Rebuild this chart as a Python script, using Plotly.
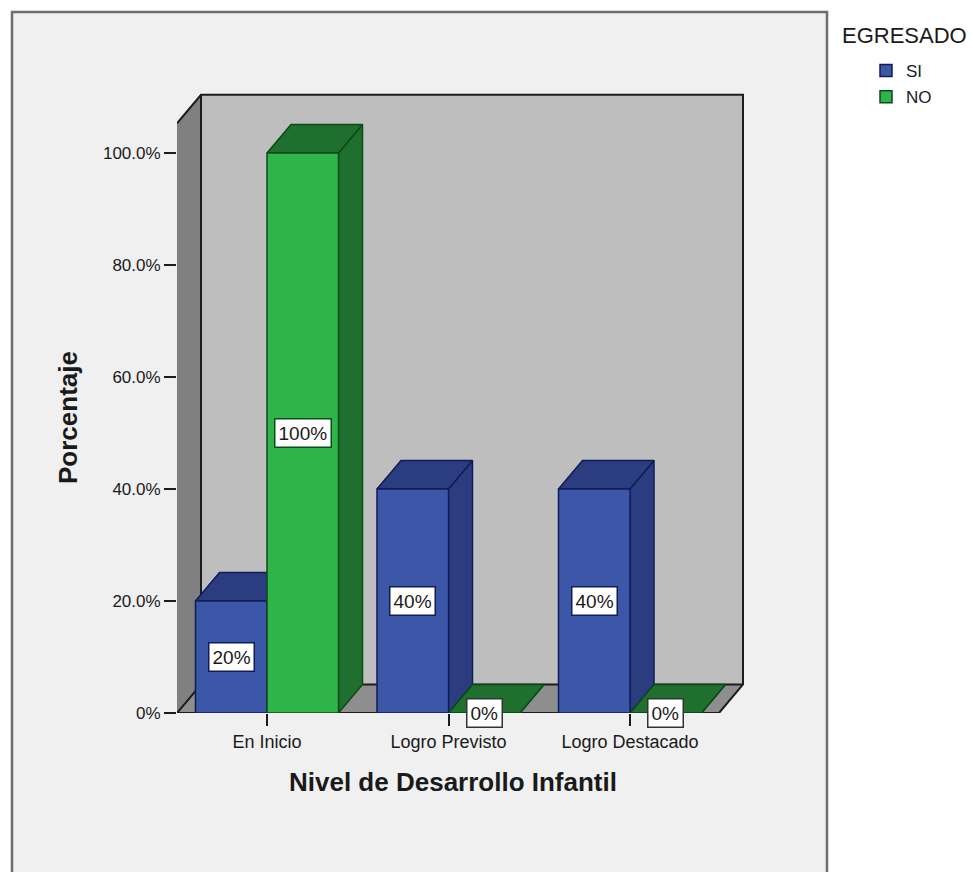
import plotly.graph_objects as go

# ---- data ----
categories = ["En Inicio", "Logro Previsto", "Logro Destacado"]
si_values = [20, 40, 40]
no_values = [100, 0, 0]
si_labels = ["20%", "40%", "40%"]
no_labels = ["100%", "0%", "0%"]
y_ticks = [0, 20, 40, 60, 80, 100]
y_tick_labels = ["0%", "20.0%", "40.0%", "60.0%", "80.0%", "100.0%"]

# ---- geometry / style ----
W, H = 973, 872
M_L, M_R, M_T, M_B = 177, W - 748, 90, H - 713
PX_PER_CAT = 181.5
PX_PER_PCT = 5.6
X_MIN = (177 - 267) / PX_PER_CAT
X_MAX = (748 - 267) / PX_PER_CAT
Y_MAX = (713 - 90) / PX_PER_PCT
BW = 71.5 / PX_PER_CAT          # bar width, category units
DX = 24 / PX_PER_CAT            # 3-D depth in x
DY = 28.5 / PX_PER_PCT          # 3-D depth in y
X_FRONT_END = (719 - 267) / PX_PER_CAT
FONT = "Liberation Sans"
BLUE, BLUE_D, BLUE_E = "#3c57a8", "#2b3d80", "#101c58"
GREEN, GREEN_D, GREEN_E = "#2fb44a", "#1f6f2e", "#0b4a1a"
TXT = "#1a1a1a"
EDGE = "#1c1c1c"

fig = go.Figure()


def poly(xs, ys, fill, line=None, width=0):
    fig.add_trace(go.Scatter(
        x=xs, y=ys, mode="lines", fill="toself" if fill else None, fillcolor=fill,
        line=dict(color=line or "rgba(0,0,0,0)", width=width),
        showlegend=False, hoverinfo="skip", cliponaxis=False))


x_back_left = X_MIN + DX
x_back_right = X_FRONT_END + DX
y_top = 105.3

# walls and floor
poly([x_back_left, x_back_right, x_back_right, x_back_left, x_back_left],
     [DY, DY, y_top + DY, y_top + DY, DY], "#bebebe")
poly([X_MIN, x_back_left, x_back_left, X_MIN, X_MIN],
     [0, DY, y_top + DY, y_top, 0], "#808080")
poly([X_MIN, X_FRONT_END, x_back_right, x_back_left, X_MIN],
     [0, 0, DY, DY, 0], "#8e8e8e")
# wall edges
poly([X_MIN, x_back_left, x_back_right, x_back_right, X_FRONT_END, X_MIN],
     [y_top, y_top + DY, y_top + DY, DY, 0, 0], None, EDGE, 2)
poly([X_MIN, x_back_left, x_back_right], [0, DY, DY], None, EDGE, 2)
poly([x_back_left, x_back_left], [DY, y_top + DY], None, EDGE, 2)

# depth faces of the bars
for i, _ in enumerate(categories):
    for vals, x0, dark, edge in ((si_values, i - BW, BLUE_D, BLUE_E),
                                 (no_values, i, GREEN_D, GREEN_E)):
        v = vals[i]
        x1 = x0 + BW
        poly([x1, x1 + DX, x1 + DX, x1, x1], [0, DY, v + DY, v, 0], dark, edge, 1.5)
        poly([x0, x1, x1 + DX, x0 + DX, x0], [v, v, v + DY, v + DY, v], dark, edge, 1.5)

# front faces, on an overlaid subplot so they hide what is behind them
fig.add_trace(go.Bar(x=list(range(len(categories))), y=si_values, name="SI", legendgroup="si",
                     marker=dict(color=BLUE, line=dict(color=BLUE_E, width=1.5)),
                     xaxis="x2", yaxis="y2", hoverinfo="skip"))
fig.add_trace(go.Bar(x=list(range(len(categories))), y=no_values, name="NO", legendgroup="no",
                     marker=dict(color=GREEN, line=dict(color=GREEN_E, width=1.5)),
                     xaxis="x2", yaxis="y2", hoverinfo="skip"))

annotations = []
for i, _ in enumerate(categories):
    for vals, labs, xc, edge in ((si_values, si_labels, i - BW / 2, BLUE_E),
                                 (no_values, no_labels, i + BW / 2, GREEN_E)):
        annotations.append(dict(
            x=xc, y=vals[i] / 2, xref="x", yref="y", text=labs[i], showarrow=False,
            font=dict(family=FONT, size=19, color=TXT), bgcolor="white",
            bordercolor=edge if vals[i] else "#333333", borderwidth=1.5, borderpad=3))

px = lambda p: (p - M_L) / (W - M_L - M_R)
py = lambda p: 1 - (p - M_T) / (H - M_T - M_B)

# axis titles and legend heading, placed where the reference has them
annotations += [
    dict(x=px(453), y=py(782), xref="paper", yref="paper", showarrow=False,
         xanchor="center", yanchor="middle",
         text="<b>Nivel de Desarrollo Infantil</b>",
         font=dict(family=FONT, size=26, color=TXT)),
    dict(x=px(68), y=py(418), xref="paper", yref="paper", showarrow=False, textangle=-90,
         xanchor="center", yanchor="middle",
         text="<b>Porcentaje</b>", font=dict(family=FONT, size=26, color=TXT)),
    dict(x=px(904), y=py(35), xref="paper", yref="paper", showarrow=False,
         xanchor="center", yanchor="middle",
         text="EGRESADO", font=dict(family=FONT, size=22, color=TXT)),
]

fig.update_layout(
    width=W, height=H, autosize=False,
    margin=dict(l=M_L, r=M_R, t=M_T, b=M_B, autoexpand=False, pad=0),
    paper_bgcolor="white", plot_bgcolor="rgba(0,0,0,0)",
    barmode="group", bargap=0.212, bargroupgap=0,
    font=dict(family=FONT, color=TXT),
    xaxis=dict(range=[X_MIN, X_MAX], tickmode="array",
               tickvals=list(range(len(categories))), ticktext=categories,
               ticks="outside", ticklen=12, tickwidth=2, tickcolor=EDGE,
               tickfont=dict(family=FONT, size=18, color=TXT),
               showgrid=False, zeroline=False, showline=False),
    yaxis=dict(range=[0, Y_MAX], tickmode="array", tickvals=y_ticks, ticktext=y_tick_labels,
               ticks="outside", ticklen=12, tickwidth=2, tickcolor=EDGE,
               tickfont=dict(family=FONT, size=17, color=TXT),
               showgrid=False, zeroline=False, showline=False),
    xaxis2=dict(matches="x", overlaying="x", visible=False),
    yaxis2=dict(matches="y", overlaying="y", visible=False),
    legend=dict(x=px(866), y=py(53), xanchor="left", yanchor="top",
                bgcolor="rgba(0,0,0,0)", tracegroupgap=1, traceorder="grouped",
                itemclick=False, itemdoubleclick=False,
                font=dict(family=FONT, size=17, color=TXT)),
    annotations=annotations,
    shapes=[dict(type="rect", xref="paper", yref="paper", layer="below",
                 x0=px(12), x1=px(827), y0=py(880), y1=py(12),
                 fillcolor="#f0f0f0", line=dict(color="#6e6e6e", width=2.5))],
)

fig.write_html("out.html", post_script="document.body.style.margin='0';",
               config={"displayModeBar": False})
